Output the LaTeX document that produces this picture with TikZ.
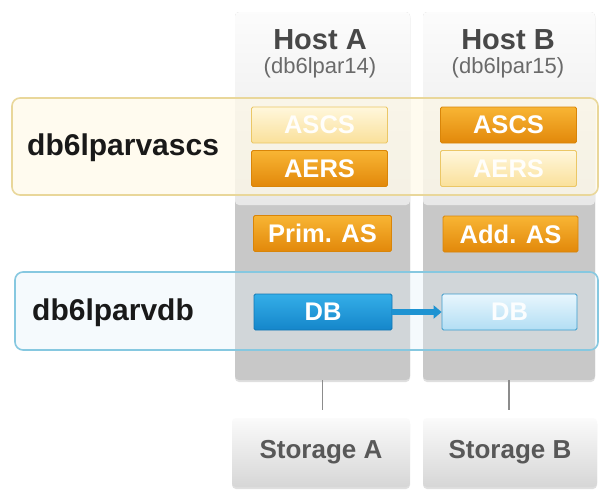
\documentclass[tikz,border=0pt]{standalone}
\usepackage{fontspec}
\setmainfont{Liberation Sans}
\usetikzlibrary{arrows.meta,shadows}
\definecolor{orTop}{HTML}{F8B534}
\definecolor{orBot}{HTML}{E2880A}
\definecolor{orLine}{HTML}{D98508}
\definecolor{plTop}{HTML}{FFF7DC}
\definecolor{plBot}{HTML}{FAE09A}
\definecolor{plLine}{HTML}{EBC766}
\definecolor{blTop}{HTML}{34AEE8}
\definecolor{blBot}{HTML}{1586CA}
\definecolor{blLine}{HTML}{1277B4}
\definecolor{pbTop}{HTML}{E8F6FD}
\definecolor{pbBot}{HTML}{B2DEF4}
\definecolor{pbLine}{HTML}{3C9BCB}
\definecolor{colGray}{HTML}{C8C8C8}
\definecolor{colLight}{HTML}{F4F4F4}
\definecolor{grpY}{HTML}{E9D79A}
\definecolor{grpYfill}{HTML}{FFF8E2}
\definecolor{grpB}{HTML}{86C8E0}
\definecolor{grpBfill}{HTML}{E3F2FA}
\definecolor{hostTxt}{HTML}{484848}
\definecolor{subTxt}{HTML}{6A6A6A}
\definecolor{storTxt}{HTML}{585858}
\definecolor{arrowBlue}{HTML}{1E93D2}
\tikzset{
  box/.style={minimum width=136pt, minimum height=36pt, rounded corners=1.5pt,
    inner sep=0pt, text=white, font=\fontsize{25.5}{28}\selectfont\bfseries, line width=0.8pt},
  orbox/.style={box, draw=orLine, top color=orTop, bottom color=orBot},
  palebox/.style={box, draw=plLine, top color=plTop, bottom color=plBot, text=white!96!plBot},
  dbbox/.style={box, draw=blLine, top color=blTop, bottom color=blBot},
  paledb/.style={box, draw=pbLine, top color=pbTop, bottom color=pbBot, text=white!95!pbBot},
  column/.style={rounded corners=4pt, fill=colGray, inner sep=0pt,
    drop shadow={opacity=0.25, shadow xshift=0pt, shadow yshift=-2pt}},
  header/.style={rounded corners=4pt, inner sep=0pt, top color=white!70!colLight, bottom color=colLight!95!black},
  storage/.style={rounded corners=4pt, inner sep=0pt, top color=white!60!colLight, bottom color=black!16,
    text=storTxt, font=\fontsize{26}{30}\selectfont\bfseries,
    drop shadow={opacity=0.25, shadow xshift=0pt, shadow yshift=-2pt}},
  hosttitle/.style={text=hostTxt, font=\fontsize{29}{32}\selectfont\bfseries, inner sep=0pt},
  hostsub/.style={text=subTxt, font=\fontsize{22}{24}\selectfont, inner sep=0pt},
  grplabel/.style={text=black!90, font=\fontsize{30}{34}\selectfont\bfseries, inner sep=0pt, anchor=west},
  ygroup/.style={rounded corners=8pt, draw=grpY, line width=1.6pt, fill=grpYfill, fill opacity=0.55, inner sep=0pt},
  bgroup/.style={rounded corners=8pt, draw=grpB, line width=1.6pt, fill=grpBfill, fill opacity=0.35, inner sep=0pt},
  link/.style={draw=black!45, line width=1.2pt},
  dbarrow/.style={draw=arrowBlue, line width=6pt, -{Triangle[length=8pt,width=13pt]}}
}
\begin{document}
\begin{tikzpicture}[x=1pt,y=-1pt]
\useasboundingbox (0,0) rectangle (602,493);
\fill[white] (0,0) rectangle (602,493);
% columns
\node[column, minimum width=175pt, minimum height=368pt] (colA) at (322.5,196) {};
\node[column, minimum width=172pt, minimum height=368pt] (colB) at (509,196) {};
\node[header, minimum width=175pt, minimum height=193pt] (headA) at (322.5,108.5) {};
\node[header, minimum width=172pt, minimum height=193pt] (headB) at (509,108.5) {};
% host titles
\node[hosttitle] (hA) at (320,40) {Host A};
\node[hostsub] (hAs) at (320,68) {(db6lpar14)};
\node[hosttitle] (hB) at (508,40) {Host B};
\node[hostsub] (hBs) at (508,68) {(db6lpar15)};
% storage
\node[storage, minimum width=178pt, minimum height=69pt] (storA) at (321,452.5) {Storage A};
\node[storage, minimum width=174pt, minimum height=69pt] (storB) at (510,452.5) {Storage B};
\draw[link] (colA.south) -- ([yshift=8pt]storA.north -| colA.south);
\draw[link] (colB.south) -- ([yshift=8pt]storB.north -| colB.south);
% groups
\node[ygroup, minimum width=586pt, minimum height=97pt] (gY) at (305,146.5) {};
\node[bgroup, minimum width=583pt, minimum height=78pt] (gB) at (306.5,311) {};
\node[grplabel] (lY) at (27,148) {db6lparvascs};
\node[grplabel] (lB) at (32,313) {db6lparvdb};
% component boxes
\node[palebox] (ascsA) at (319.5,125) {ASCS};
\node[orbox] (aersA) at (319.5,168.5) {AERS};
\node[orbox] (ascsB) at (508.5,125) {ASCS};
\node[palebox] (aersB) at (508.5,168.5) {AERS};
\node[orbox, minimum width=138pt] (primAS) at (322.5,233.5) {Prim. AS};
\node[orbox, minimum width=135pt] (addAS) at (510.5,234) {Add. AS};
\node[dbbox, minimum width=138pt] (dbA) at (323,312) {DB};
\node[paledb, minimum width=135pt] (dbB) at (509.5,312) {DB};
\draw[dbarrow] (dbA.east) -- (dbB.west);
\end{tikzpicture}
\end{document}
